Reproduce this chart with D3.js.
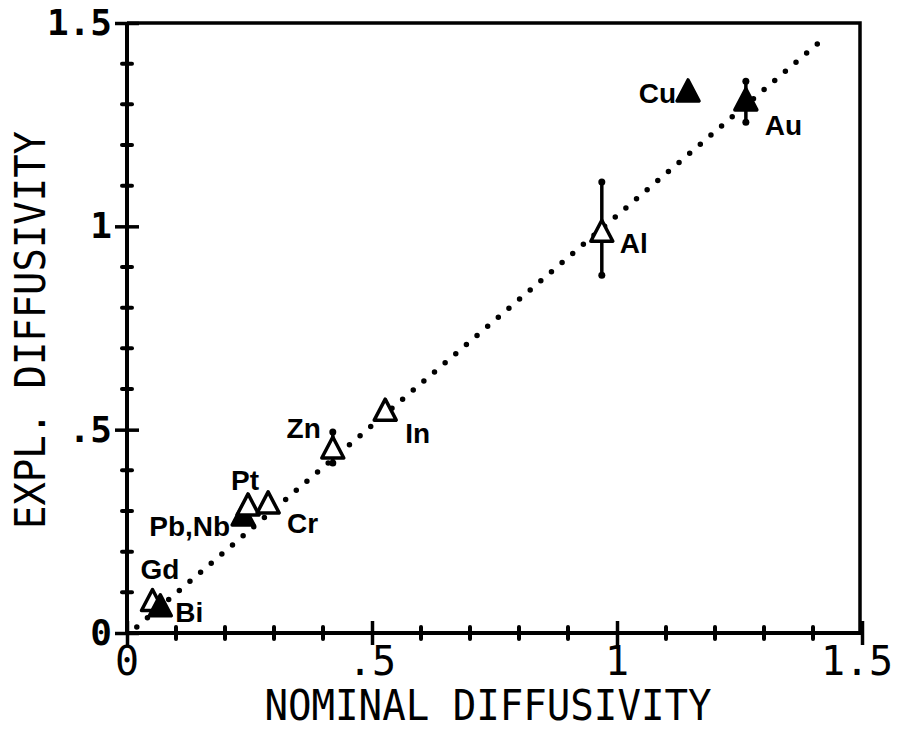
<!DOCTYPE html>
<html>
<head>
<meta charset="utf-8">
<script src="https://cdn.jsdelivr.net/npm/d3@7"></script>
<style>
  html, body { margin: 0; padding: 0; background: #fff; }
  svg { display: block; }
</style>
</head>
<body>
<div id="chart"></div>
<script>
// tick values and labels
const xTicks = [0, 0.5, 1, 1.5];
const xTickLabels = ["0", ".5", "1", "1.5"];
const yTicks = [0, 0.5, 1, 1.5];
const yTickLabels = ["0", ".5", "1", "1.5"];
const minorTicks = [0.1, 0.2, 0.3, 0.4, 0.6, 0.7, 0.8, 0.9, 1.1, 1.2, 1.3, 1.4];

// measured points
const elements = ["Gd", "Bi", "Pb,Nb", "Pt", "Cr", "Zn", "In", "Al", "Cu", "Au"];
const nominal  = [0.052, 0.068, 0.237, 0.247, 0.288, 0.42, 0.527, 0.969, 1.145, 1.263];
const measured = [0.075, 0.062, 0.285, 0.31, 0.315, 0.45, 0.543, 0.983, 1.328, 1.306];
const errLow   = [null, null, null, null, null, 0.418, null, 0.88, null, 1.256];
const errHigh  = [null, null, null, null, null, 0.494, null, 1.109, null, 1.357];

// reference line (dotted)
const lineNominal  = [0.02, 1.42];
const lineMeasured = [0.015, 1.46];

const width = 898, height = 731;
const plotLeft = 127, plotRight = 860, plotTop = 23, plotBottom = 633;

const svg = d3.select("#chart").append("svg")
  .attr("width", width)
  .attr("height", height);

const x = d3.scaleLinear().domain([0, 1.5]).range([plotLeft, 862]);
const y = d3.scaleLinear().domain([0, 1.5]).range([plotBottom, plotTop]);

// frame (top and right sides, no ticks)
svg.append("path")
  .attr("d", `M${plotLeft},${plotTop} L${plotRight},${plotTop} L${plotRight},${plotBottom}`)
  .attr("fill", "none")
  .attr("stroke", "#000")
  .attr("stroke-width", 3.5);

// bottom axis
const xAxis = svg.append("g")
  .attr("transform", `translate(0,${plotBottom})`)
  .call(d3.axisBottom(x).tickValues(xTicks).tickSize(0).tickFormat(""));
xAxis.select(".domain").attr("stroke-width", 4).attr("d", `M${plotLeft},0H${x(1.5)}`);
xAxis.selectAll(".tick line").attr("y1", -12).attr("y2", 12).attr("stroke-width", 3.5);

xAxis.selectAll(".minor")
  .data(minorTicks)
  .enter().append("line")
  .attr("class", "minor")
  .attr("x1", d => x(d)).attr("x2", d => x(d))
  .attr("y1", -6).attr("y2", 6)
  .attr("stroke", "#000")
  .attr("stroke-width", 4)
  .attr("stroke-linecap", "round");

svg.selectAll(".xlab")
  .data(xTicks)
  .enter().append("text")
  .attr("class", "xlab")
  .attr("x", d => x(d) - (d === 1.5 ? 5 : 0))
  .attr("y", 675)
  .attr("text-anchor", "middle")
  .style("font-family", "'DejaVu Sans Mono', monospace")
  .style("font-size", "40px")
  .text((d, i) => xTickLabels[i]);

// left axis
const yAxis = svg.append("g")
  .attr("transform", `translate(${plotLeft},0)`)
  .call(d3.axisLeft(y).tickValues(yTicks).tickSize(0).tickFormat(""));
yAxis.select(".domain").attr("stroke-width", 4).attr("d", `M0,${plotBottom}V${plotTop}`);
yAxis.selectAll(".tick line").attr("x1", -12).attr("x2", 12).attr("stroke-width", 3.5);

yAxis.selectAll(".minor")
  .data(minorTicks)
  .enter().append("line")
  .attr("class", "minor")
  .attr("y1", d => y(d)).attr("y2", d => y(d))
  .attr("x1", -5).attr("x2", 5)
  .attr("stroke", "#000")
  .attr("stroke-width", 4)
  .attr("stroke-linecap", "round");

svg.selectAll(".ylab")
  .data(yTicks)
  .enter().append("text")
  .attr("class", "ylab")
  .attr("x", 112)
  .attr("y", d => y(d) + 12)
  .attr("text-anchor", "end")
  .style("font-family", "'DejaVu Sans Mono', monospace")
  .style("font-weight", "bold")
  .style("font-size", "36px")
  .text((d, i) => yTickLabels[i]);

// axis titles
svg.append("text")
  .attr("x", 488)
  .attr("y", 720)
  .attr("text-anchor", "middle")
  .attr("textLength", 447)
  .attr("lengthAdjust", "spacingAndGlyphs")
  .style("font-family", "'DejaVu Sans Mono', monospace")
  .style("font-size", "43px")
  .text("NOMINAL DIFFUSIVITY");

svg.append("text")
  .attr("transform", "translate(45,330) rotate(-90)")
  .attr("text-anchor", "middle")
  .attr("textLength", 398)
  .attr("lengthAdjust", "spacingAndGlyphs")
  .style("font-family", "'DejaVu Sans Mono', monospace")
  .style("font-size", "43px")
  .text("EXPL. DIFFUSIVITY");

// dotted reference line
const line = d3.line().x(d => x(d[0])).y(d => y(d[1]));
svg.append("path")
  .datum(d3.zip(lineNominal, lineMeasured))
  .attr("d", line)
  .attr("fill", "none")
  .attr("stroke", "#000")
  .attr("stroke-width", 5.5)
  .attr("stroke-linecap", "round")
  .attr("stroke-dasharray", "0 14");

const points = elements.map((name, i) => ({
  name, nx: nominal[i], my: measured[i], lo: errLow[i], hi: errHigh[i]
}));

// error bars
const withErr = points.filter(p => p.lo !== null);
svg.selectAll(".err")
  .data(withErr)
  .enter().append("line")
  .attr("class", "err")
  .attr("x1", d => x(d.nx)).attr("x2", d => x(d.nx))
  .attr("y1", d => y(d.lo)).attr("y2", d => y(d.hi))
  .attr("stroke", "#000")
  .attr("stroke-width", 3.5);
svg.selectAll(".cap")
  .data(withErr.flatMap(d => [[d.nx, d.lo], [d.nx, d.hi]]))
  .enter().append("circle")
  .attr("class", "cap")
  .attr("cx", d => x(d[0]))
  .attr("cy", d => y(d[1]))
  .attr("r", 3.5)
  .attr("fill", "#000");

// triangles
const filled = ["Bi", "Pb,Nb", "Cu", "Au"];
svg.selectAll(".tri")
  .data(points)
  .enter().append("path")
  .attr("class", "tri")
  .attr("transform", d => `translate(${x(d.nx)},${y(d.my)})`)
  .attr("d", "M0,-13 L11,8 L-11,8 Z")
  .attr("fill", d => filled.includes(d.name) ? "#000" : "#fff")
  .attr("stroke", "#000")
  .attr("stroke-width", 3.5)
  .attr("stroke-linejoin", "round");

// point labels
const labelPlace = {
  "Gd":    { dx: -12, dy: -24, anchor: "start" },
  "Bi":    { dx: 15,  dy: 14,  anchor: "start" },
  "Pb,Nb": { dx: -13, dy: 19,  anchor: "end" },
  "Pt":    { dx: -3,  dy: -17, anchor: "middle" },
  "Cr":    { dx: 19,  dy: 28,  anchor: "start" },
  "Zn":    { dx: -12, dy: -12, anchor: "end" },
  "In":    { dx: 20,  dy: 31,  anchor: "start" },
  "Al":    { dx: 18,  dy: 20,  anchor: "start" },
  "Cu":    { dx: -12, dy: 10,  anchor: "end" },
  "Au":    { dx: 19,  dy: 33,  anchor: "start" }
};

svg.selectAll(".plab")
  .data(points)
  .enter().append("text")
  .attr("class", "plab")
  .attr("x", d => x(d.nx) + labelPlace[d.name].dx)
  .attr("y", d => y(d.my) + labelPlace[d.name].dy)
  .attr("text-anchor", d => labelPlace[d.name].anchor)
  .style("font-family", "'Liberation Sans', Arial, sans-serif")
  .style("font-weight", "bold")
  .style("font-size", "28px")
  .text(d => d.name);
</script>
</body>
</html>
